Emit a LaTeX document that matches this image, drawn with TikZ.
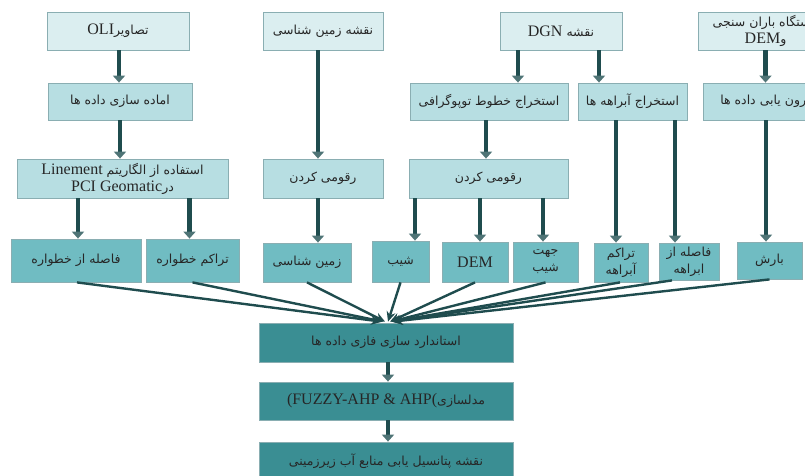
\documentclass[tikz,border=0pt]{standalone}
\usepackage{fontspec}
\setmainfont{Liberation Serif}
\newfontfamily\arfont[Script=Arabic,Scale=0.78]{DejaVu Sans}
\TeXXeTstate=1
\usetikzlibrary{arrows.meta,calc}
\definecolor{cA}{HTML}{DBEEF0}
\definecolor{cB}{HTML}{B7DEE2}
\definecolor{cC}{HTML}{70BCC2}
\definecolor{cD}{HTML}{3A8E93}
\definecolor{bd}{HTML}{8AAEB2}
\definecolor{arw}{HTML}{1F4C4E}
\definecolor{arh}{HTML}{4F7476}
\newcommand{\AR}[1]{{\arfont\beginR #1\endR}}
\newcommand{\LT}[1]{\beginL{\rmfamily #1}\endL}
\tikzset{
  box/.style={draw=bd, line width=0.8pt, align=center, inner sep=1pt,
    font=\fontsize{16}{17}\selectfont, text=black!85},
  bA/.style={box, fill=cA},
  bB/.style={box, fill=cB},
  bC/.style={box, fill=cC},
  bD/.style={box, fill=cD},
  varr/.style={draw=arw, line width=4.5pt, -{Triangle[width=12pt,length=7pt,color=arh]}},
  carr/.style={draw=arw, line width=2.4pt, -{Stealth[length=10pt,width=9pt]}}
}
\begin{document}
\begin{tikzpicture}[x=1pt,y=-1pt]
\useasboundingbox (0,0) rectangle (805,476);
\clip (0,0) rectangle (805,476);
% top row
\node[bA, minimum width=142pt, minimum height=38pt] (oli) at (118,31) {\AR{تصاویر\LT{OLI}}};
\node[bA, minimum width=120pt, minimum height=38pt] (geomap) at (323,31) {\AR{نقشه زمین شناسی}};
\node[bA, minimum width=122pt, minimum height=38pt] (dgn) at (561,31) {\AR{نقشه \LT{DGN}}};
\node[bA, minimum width=135pt, minimum height=38pt] (rain) at (765.5,31) {\AR{ایستگاه باران سنجی}\\\AR{و\LT{DEM}}};
% row 2
\node[bB, minimum width=144pt, minimum height=37pt] (prep) at (120,101.5) {\AR{اماده سازی داده ها}};
\node[bB, minimum width=158pt, minimum height=37pt] (topo) at (489,101.5) {\AR{استخراج خطوط توپوگرافی}};
\node[bB, minimum width=109pt, minimum height=37pt] (streams) at (632.5,101.5) {\AR{استخراج آبراهه ها}};
\node[bB, minimum width=126pt, minimum height=37pt] (interp) at (766,101.5) {\AR{درون یابی داده ها}};
% row 3
\node[bB, minimum width=211pt, minimum height=39pt] (lin) at (122.5,178.5) {\AR{استفاده از الگاریتم \LT{Linement}}\\\AR{در\LT{PCI Geomatic}}};
\node[bB, minimum width=120pt, minimum height=39pt] (geodig) at (323,178.5) {\AR{رقومی کردن}};
\node[bB, minimum width=159pt, minimum height=39pt] (topodig) at (488.5,178.5) {\AR{رقومی کردن}};
% row 4
\node[bC, minimum width=130pt, minimum height=43pt] (dlin) at (76,260.5) {\AR{فاصله از خطواره}};
\node[bC, minimum width=93pt, minimum height=43pt] (clin) at (192.5,260.5) {\AR{تراکم خطواره}};
\node[bC, minimum width=88pt, minimum height=39pt] (geo) at (307,262.5) {\AR{زمین شناسی}};
\node[bC, minimum width=57pt, minimum height=41pt] (slope) at (400.5,261.5) {\AR{شیب}};
\node[bC, minimum width=66pt, minimum height=40pt] (dem) at (475,262) {DEM};
\node[bC, minimum width=65pt, minimum height=40pt] (aspect) at (545.5,262) {\AR{جهت}\\\AR{شیب}};
\node[bC, minimum width=54pt, minimum height=39pt] (cstr) at (621,262.5) {\AR{تراکم}\\\AR{آبراهه}};
\node[bC, minimum width=60pt, minimum height=37pt] (dstr) at (689,261.5) {\AR{فاصله از}\\\AR{ابراهه}};
\node[bC, minimum width=65pt, minimum height=37pt] (rainf) at (769.5,260.5) {\AR{بارش}};
% bottom
\node[bD, minimum width=254pt, minimum height=39pt] (std) at (386,342.5) {\AR{استاندارد سازی فازی داده ها}};
\node[bD, minimum width=254pt, minimum height=38pt] (model) at (386,401) {\AR{مدلسازی\LT{(FUZZY-AHP \& AHP(}}};
\node[bD, minimum width=254pt, minimum height=38pt] (final) at (386,461) {\AR{نقشه پتانسیل یابی منابع آب زیرزمینی}};
% vertical arrows
\draw[varr] ([xshift=1pt]oli.south) -- ([xshift=1pt]oli.south |- prep.north);
\draw[varr] (prep.south) -- (prep.south |- lin.north);
\draw[varr] ([xshift=-5pt]geomap.south) -- ([xshift=-5pt]geomap.south |- geodig.north);
\draw[varr] ([xshift=2pt]lin.south -| dlin.north) -- ([xshift=2pt]dlin.north);
\draw[varr] ([xshift=-3pt]lin.south -| clin.north) -- ([xshift=-3pt]clin.north);
\draw[varr] ([xshift=-5pt]geodig.south) -- ([xshift=-5pt]geodig.south |- geo.north);
\draw[varr] ([xshift=-43pt]dgn.south) -- ([xshift=-43pt]dgn.south |- topo.north);
\draw[varr] ([xshift=38pt]dgn.south) -- ([xshift=38pt]dgn.south |- streams.north);
\draw[varr] (rain.south) -- (rain.south |- interp.north);
\draw[varr] ([xshift=-3pt]topo.south) -- ([xshift=-3pt]topo.south |- topodig.north);
\draw[varr] ([xshift=-73.5pt]topodig.south) -- ([xshift=-73.5pt]topodig.south |- slope.north);
\draw[varr] ([xshift=-8.5pt]topodig.south) -- ([xshift=-8.5pt]topodig.south |- dem.north);
\draw[varr] ([xshift=54.5pt]topodig.south) -- ([xshift=54.5pt]topodig.south |- aspect.north);
\draw[varr] ([xshift=-16.5pt]streams.south) -- ([xshift=-16.5pt]streams.south |- cstr.north);
\draw[varr] ([xshift=42.5pt]streams.south) -- ([xshift=42.5pt]streams.south |- dstr.north);
\draw[varr] (interp.south) -- (interp.south |- rainf.north);
\draw[varr] ([xshift=2pt]std.south) -- ([xshift=2pt]std.south |- model.north);
\draw[varr] ([xshift=2pt]model.south) -- ([xshift=2pt]model.south |- final.north);
% converging arrows
\draw[carr] ([xshift=1pt]dlin.south) -- ([xshift=-5pt,yshift=1pt]std.north);
\draw[carr] (clin.south) -- ([xshift=-3pt,yshift=1pt]std.north);
\draw[carr] (geo.south) -- ([xshift=-1pt,yshift=1pt]std.north);
\draw[carr] (slope.south) -- ([xshift=2pt,yshift=1pt]std.north);
\draw[carr] (dem.south) -- ([xshift=4pt,yshift=1pt]std.north);
\draw[carr] (aspect.south) -- ([xshift=5pt,yshift=1pt]std.north);
\draw[carr] ([xshift=-1pt]cstr.south) -- ([xshift=6pt,yshift=1pt]std.north);
\draw[carr] ([xshift=-17pt]dstr.south) -- ([xshift=6pt,yshift=1pt]std.north);
\draw[carr] (rainf.south) -- ([xshift=7pt,yshift=1pt]std.north);
\end{tikzpicture}
\end{document}
